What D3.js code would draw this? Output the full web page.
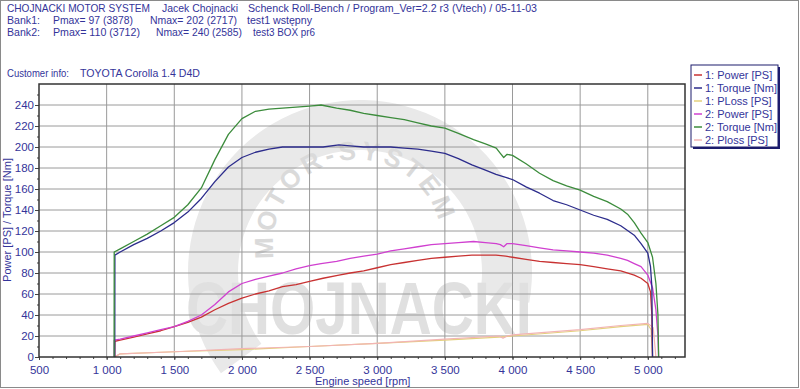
<!DOCTYPE html>
<html>
<head>
<meta charset="utf-8">
<script src="https://cdn.jsdelivr.net/npm/d3@7"></script>
<style>
body{margin:0;background:#fff;}
svg{display:block;font-family:Arial,"Liberation Sans",sans-serif;}
</style>
</head>
<body>
<svg id="chart" width="800" height="389"></svg>
<script>
// header info
var header = ["CHOJNACKI MOTOR SYSTEM", "Jacek Chojnacki", "Schenck Roll-Bench / Program_Ver=2.2 r3 (Vtech) / 05-11-03"];
var bank1 = ["Bank1:", "Pmax= 97 (3878)", "Nmax= 202 (2717)", "test1 wstępny"];
var bank2 = ["Bank2:", "Pmax= 110 (3712)", "Nmax= 240 (2585)", "test3 BOX pr6"];
var customer = ["Customer info:", "TOYOTA Corolla 1.4 D4D"];

var xTicks = [500,1000,1500,2000,2500,3000,3500,4000,4500,5000];
var yTicks = [0,20,40,60,80,100,120,140,160,180,200,220,240];

// bank 1 (test1 wstepny)
var rpm1 = [1060,1061,1100,1200,1300,1400,1500,1600,1700,1800,1900,2000,2100,2200,2300,2400,2500,2600,2717,2800,2900,3000,3100,3200,3300,3400,3500,3600,3700,3800,3878,3950,4000,4100,4200,4300,4400,4500,4600,4700,4800,4900,4950,5000,5020,5030,5035];
var torque1 = [0,97,100,107,113,120,128,138,151,167,181,190,195,198,200,200,200,200,202,201,200,200,200,199,198,196,194,189,183,178,174,171,169,162,156,149,145,140,135,131,125,116,108,99,86,67,0];
var power1 = [0,15,16,19,22,25,29,33,38,45,51,56,60,63,67,69,72,75,78,80,82,85,88,90,92,94,95,96,97,97,97,96,95,93,91,90,89,88,86,84,82,78,75,70,62,40,0];
var rpmLoss1 = [1060,1100,1500,2000,2500,3000,3500,3900,4000,4500,4800,5000,5025,5035];
var ploss1 = [0,3,5,7,10,13,16,19,20,25,29,31,26,0];

// bank 2 (test3 BOX pr6)
var rpm2 = [1055,1056,1100,1200,1300,1400,1500,1600,1700,1800,1900,2000,2100,2200,2300,2400,2500,2585,2700,2800,2900,3000,3100,3200,3300,3400,3500,3600,3712,3800,3880,3910,3935,3960,4000,4100,4200,4300,4400,4500,4600,4700,4800,4850,4900,4950,5000,5035,5060,5075,5080];
var torque2 = [0,100,103,110,117,125,133,145,161,188,212,227,234,236,237,238,239,240,237,235,232,230,228,226,223,220,218,213,207,203,199,194,190,193,192,184,175,168,163,159,153,148,141,136,128,118,109,95,70,40,0];
var power2 = [0,16,17,20,23,26,29,34,40,50,62,70,74,77,80,84,87,89,91,94,96,98,101,103,105,107,108,109,110,109,108,107,105,108,108,106,104,102,101,100,99,97,94,92,89,86,78,66,45,20,0];
var rpmLoss2 = [1055,1100,1500,2000,2500,3000,3500,3900,3930,3960,4000,4500,4800,5000,5040,5060];
var ploss2 = [0,3,5,8,10,13,17,20,18,20,21,26,30,32,28,0];

var legendNames = ["1: Power [PS]","1: Torque [Nm]","1: PLoss [PS]","2: Power [PS]","2: Torque [Nm]","2: Ploss [PS]"];
var legendColors = ["#c83232","#2c2c8c","#e4d07c","#d040d0","#3c8c3c","#f2b4b4"];

var navy = "#34349a";
var svg = d3.select("#chart");

var x = d3.scaleLinear().domain([500,5275]).range([39,685]);
var y = d3.scaleLinear().domain([0,260]).range([357,84]);

// outer frame
svg.append("rect").attr("x",0.5).attr("y",0.5).attr("width",798).attr("height",387)
	.attr("fill","#fff").attr("stroke","#8a8a8a");

// watermark logo (background)
var wm = svg.append("g");
var ring = d3.arc().innerRadius(122).outerRadius(172).startAngle(-2.2).endAngle(1.75);
wm.append("path").attr("d",ring()).attr("transform","translate(360,272)").attr("fill","#e9e9e9");
wm.append("path").attr("id","wmArc")
	.attr("d","M 274.3,258.6 A 84 84 0 1 1 440.7,229.4").attr("fill","none");
wm.append("text").attr("font-size",26).attr("font-weight","bold").attr("fill","#dadada")
	.attr("letter-spacing",4)
	.append("textPath").attr("href","#wmArc").text("MOTOR-SYSTEM");
wm.append("text").attr("x",186).attr("y",334).attr("font-size",74).attr("font-weight","bold")
	.attr("fill","#e0e0e0").attr("textLength",346).attr("lengthAdjust","spacingAndGlyphs")
	.text("CHOJNACKI");

// gridlines
svg.append("g").selectAll("line").data(xTicks.slice(1)).enter().append("line")
	.attr("x1",function(d){return x(d);}).attr("x2",function(d){return x(d);})
	.attr("y1",y(260)).attr("y2",y(0)).attr("stroke","#9a9a9a").attr("stroke-width",1);
svg.append("g").selectAll("line").data(yTicks.slice(1)).enter().append("line")
	.attr("x1",x(500)).attr("x2",x(5275))
	.attr("y1",function(d){return y(d);}).attr("y2",function(d){return y(d);})
	.attr("stroke","#9a9a9a").attr("stroke-width",1);

// axes
var xAxis = d3.axisBottom(x).tickValues(xTicks).tickSize(3).tickFormat(function(d){
	return d < 1000 ? d : Math.floor(d/1000) + " " + d3.format("03")(d%1000);
});
var gx = svg.append("g").attr("transform","translate(0,"+y(0)+")").call(xAxis);
var gxm = svg.append("g").attr("transform","translate(0,"+y(0)+")")
	.call(d3.axisBottom(x).tickValues(d3.range(600,5275,100)).tickSize(2).tickFormat(""));
var gy = svg.append("g").attr("transform","translate("+x(500)+",0)")
	.call(d3.axisLeft(y).tickValues(yTicks).tickSize(4));
var gym = svg.append("g").attr("transform","translate("+x(500)+",0)")
	.call(d3.axisLeft(y).tickValues(d3.range(10,260,20)).tickSize(2).tickFormat(""));
[gx,gxm,gy,gym].forEach(function(g){
	g.select(".domain").remove();
	g.selectAll("line").attr("stroke","#444");
	g.selectAll("text").attr("fill",navy).attr("font-size",11.5)
		.attr("font-family","Arial, 'Liberation Sans', sans-serif");
});
gx.selectAll("text").attr("dy","0.95em");
gy.selectAll("text").attr("x",-5);

// series
var line = d3.line().x(function(d){return x(d[0]);}).y(function(d){return y(d[1]);});
function draw(rpm, vals, color, w){
	svg.append("path").datum(d3.zip(rpm, vals)).attr("d",line)
		.attr("fill","none").attr("stroke",color).attr("stroke-width",w)
		.attr("stroke-linejoin","round");
}
draw(rpmLoss1, ploss1, legendColors[2], 1.2);
draw(rpmLoss2, ploss2, legendColors[5], 1.2);
draw(rpm1, power1, legendColors[0], 1.3);
draw(rpm2, power2, legendColors[3], 1.3);
draw(rpm1, torque1, legendColors[1], 1.3);
draw(rpm2, torque2, legendColors[4], 1.3);

// plot border
svg.append("rect").attr("x",x(500)).attr("y",y(260)).attr("width",x(5275)-x(500))
	.attr("height",y(0)-y(260)).attr("fill","none").attr("stroke","#333").attr("stroke-width",1.5);

// axis titles
svg.append("text").attr("transform","translate(11,220) rotate(-90)").attr("text-anchor","middle")
	.attr("font-size",11).attr("fill",navy).text("Power [PS] / Torque [Nm]");
svg.append("text").attr("x",315).attr("y",385).attr("font-size",11).attr("fill",navy)
	.text("Engine speed [rpm]");

// header text, widths
function txt(s, px, py, len){
	var t = svg.append("text").attr("x",px).attr("y",py).attr("font-size",11).attr("fill",navy).text(s);
	if(len){ t.attr("textLength",len).attr("lengthAdjust","spacingAndGlyphs"); }
}
var hx = [7,162,248], hw = [143,76,289];
header.forEach(function(s,i){ txt(s,hx[i],12,hw[i]); });
var b1x = [7,53,150,247], b1w = [33,80,87,65];
var b2x = [7,53,156,253], b2w = [33,87,86,62];
bank1.forEach(function(s,i){ txt(s,b1x[i],24,b1w[i]); });
bank2.forEach(function(s,i){ txt(s,b2x[i],36,b2w[i]); });
txt(customer[0],7,77,62);
txt(customer[1],80,77,120);

// legend
var lg = svg.append("g");
lg.append("rect").attr("x",693).attr("y",67).attr("width",87).attr("height",82).attr("fill","#1c1c6c");
lg.append("rect").attr("x",691).attr("y",65).attr("width",87).attr("height",82)
	.attr("fill","#fff").attr("stroke","#1c1c6c").attr("stroke-width",1);
var items = lg.selectAll("g.item").data(legendNames).enter().append("g")
	.attr("transform",function(d,i){return "translate(694,"+(75+i*13)+")";});
items.append("line").attr("x1",0).attr("x2",8).attr("y1",0).attr("y2",0)
	.attr("stroke",function(d,i){return legendColors[i];}).attr("stroke-width",1.5);
items.append("text").attr("x",11).attr("y",4).attr("font-size",11).attr("fill",navy)
	.text(function(d){return d;});
</script>
</body>
</html>
